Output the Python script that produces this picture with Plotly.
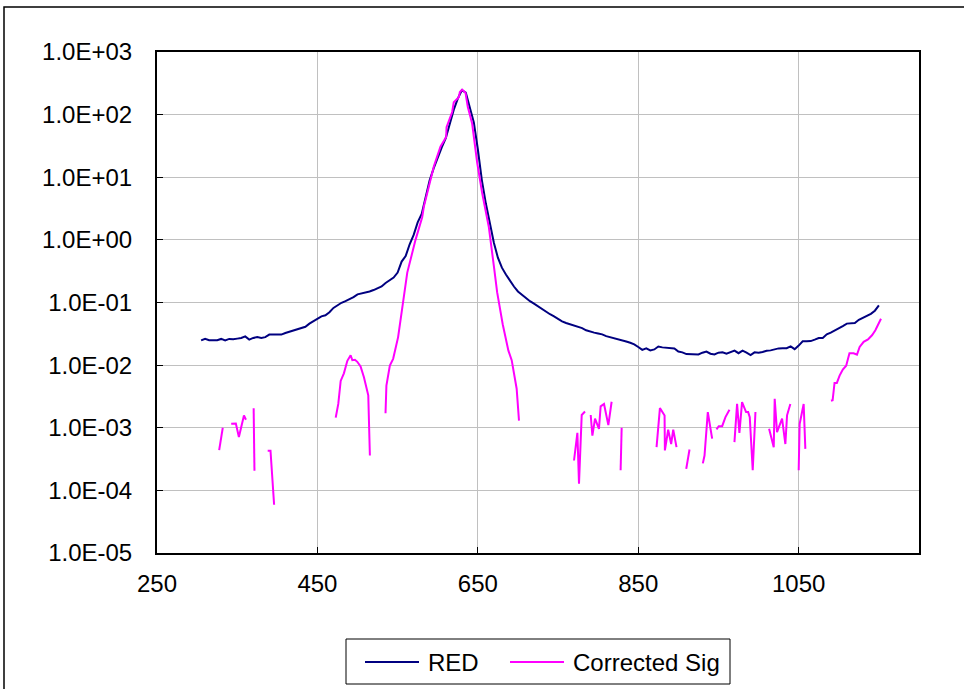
import plotly.graph_objects as go

# ---------------- data ----------------
red_x = list(range(305, 1151, 5))
red_y = [
    0.0248, 0.0264, 0.0250, 0.0248, 0.0250, 0.0262, 0.0248, 0.0262, 0.0258, 0.0265,  # 305-350
    0.0272, 0.0288, 0.0256, 0.0272, 0.0280, 0.0272, 0.0280, 0.0307, 0.0305, 0.0308,  # 355-400
    0.0307, 0.0326, 0.0340, 0.0352, 0.0370, 0.0385, 0.0410, 0.0460, 0.0500, 0.0550,  # 405-450
    0.0600, 0.0625, 0.0700, 0.0820, 0.0900, 0.0990, 0.1050, 0.1120, 0.1220, 0.1350,  # 455-500
    0.1400, 0.1420, 0.1500, 0.1580, 0.1680, 0.1800, 0.2050, 0.2300, 0.2500, 0.3000,  # 505-550
    0.4500, 0.5500, 0.8500, 1.2000, 1.9000, 2.6000, 5.0000, 9.0000, 14.000, 21.000,  # 555-600
    30.000, 42.000, 75.000, 120.00, 180.00, 245.00, 225.00, 130.00, 75.000, 28.000,  # 605-650
    9.0000, 3.8000, 1.8000, 0.9000, 0.5200, 0.3600, 0.2800, 0.2200, 0.1800, 0.1500,  # 655-700
    0.1320, 0.1180, 0.1050, 0.0960, 0.0870, 0.0780, 0.0700, 0.0650, 0.0600, 0.0540,  # 705-750
    0.0500, 0.0470, 0.0450, 0.0430, 0.0410, 0.0390, 0.0360, 0.0340, 0.0330, 0.0320,  # 755-800
    0.0310, 0.0290, 0.0280, 0.0270, 0.0260, 0.0250, 0.0238, 0.0228, 0.0215, 0.0195,  # 805-850
    0.0175, 0.0185, 0.0172, 0.0178, 0.0198, 0.0192, 0.0190, 0.0190, 0.0185, 0.0165,  # 855-900
    0.0160, 0.0150, 0.0148, 0.0150, 0.0148, 0.0158, 0.0165, 0.0152, 0.0148, 0.0158,  # 905-950
    0.0160, 0.0152, 0.0162, 0.0170, 0.0155, 0.0170, 0.0158, 0.0145, 0.0160, 0.0158,  # 955-1000
    0.0162, 0.0170, 0.0172, 0.0180, 0.0185, 0.0186, 0.0186, 0.0199, 0.0180, 0.0205,  # 1005-1050
    0.0240, 0.0240, 0.0242, 0.0255, 0.0270, 0.0272, 0.0310, 0.0330, 0.0355, 0.0385,  # 1055-1100
    0.0420, 0.0460, 0.0470, 0.0470, 0.0530, 0.0570, 0.0610, 0.0660, 0.0740, 0.0900,  # 1105-1150
]

# Corrected signal: None marks the gaps (no positive value there)
sig_x = [
    327.5, 332, None,
    342.5, 348.3, 352.1, 358.4, 360.9, None,
    370.5, 371.5, None,
    388, 391.5, 396, None,
    472.8, 476, 479, 483, 487.3, 491.4, 493.5, 496.8, 499.7, 503.8, 508, 513.4, 515.4, None,
    534.9, 536, 540.3, 544.4, 550.6, 553.6, 557, 562, 572.3, 580.6, 582.7, 588.9, 595.2,
    603.5, 610.5, 611, 618, 620, 626.3, 627.6, 630.5, 634.6, 637.5, 642.9, 649.2, 655.4,
    663.7, 670, 674.1, 681, 688.1, 692.2, 698.4, 701.3, None,
    769.9, 774.1, 776.1, 779.5, 783.6, None,
    790.7, 792.8, 796.1, 801, 803.1, 807.3, 812.7, 816.8, None,
    828, 829.3, None,
    872.8, 877, 882.8, 883.2, 887.3, 891, 893.6, 897.7, None,
    909.8, 913.9, None,
    930.5, 932.6, 936.7, 942.1, None,
    947.5, 950.4, 954.6, 958.7, 963.7, None,
    969.9, 973.2, 976.1, 979.4, 984.4, 987, 989, 992.7, 996.1, None,
    1013.1, 1018.9, 1020.1, 1023, 1029.3, 1033.4, 1035.5, 1039.6, None,
    1050, 1051.2, 1056.2, 1058.3, None,
    1090.3, 1092.3, 1094.7, 1097.6, 1101, 1105, 1109.2, 1113.3, 1118.5, 1122.7, 1126,
    1131, 1136.4, 1141.4, 1145.6, 1149.7, 1152.6,
]
sig_y = [
    4.4e-4, 1.0e-3, None,
    1.16e-3, 1.17e-3, 7.1e-4, 1.57e-3, 1.34e-3, None,
    2.05e-3, 2.05e-4, None,
    4.3e-4, 4.3e-4, 5.9e-5, None,
    1.45e-3, 2.4e-3, 5.6e-3, 7.4e-3, 1.17e-2, 1.44e-2, 1.2e-2, 1.22e-2, 1.13e-2, 9.5e-3, 6.4e-3, 3.3e-3, 3.6e-4, None,
    1.7e-3, 4.7e-3, 9.8e-3, 1.26e-2, 0.028, 0.055, 0.11, 0.3, 1.0, 2.3, 3.4, 7.1, 15,
    31, 44, 63, 110, 158, 190, 230, 250, 224, 132, 72, 17, 5.6,
    1.6, 0.38, 0.145, 0.045, 0.017, 0.012, 4.2e-3, 1.3e-3, None,
    3.0e-4, 8.3e-4, 1.28e-4, 1.6e-3, 1.82e-3, None,
    1.6e-3, 7.5e-4, 1.4e-3, 9.6e-4, 2.2e-3, 2.4e-3, 1.1e-3, 2.6e-3, None,
    2.1e-4, 1.0e-3, None,
    4.9e-4, 2.06e-3, 1.57e-3, 4.35e-4, 9.3e-4, 5.5e-4, 9.3e-4, 4.9e-4, None,
    2.2e-4, 4.5e-4, None,
    2.7e-4, 3.6e-4, 1.78e-3, 6.7e-4, None,
    9.4e-4, 1.06e-3, 1.06e-3, 1.48e-3, 1.94e-3, None,
    5.9e-4, 2.4e-3, 8.3e-4, 2.57e-3, 1.78e-3, 1.78e-3, 1.48e-3, 2.1e-4, 1.78e-3, None,
    9.6e-4, 4.9e-4, 2.9e-3, 8.5e-4, 1.4e-3, 5.5e-4, 1.58e-3, 2.4e-3, None,
    2.1e-4, 1.15e-3, 2.4e-3, 4.6e-4, None,
    2.7e-3, 2.75e-3, 5.2e-3, 5.2e-3, 6.8e-3, 8.5e-3, 9.8e-3, 0.0155, 0.0155, 0.0147, 0.0195,
    0.0235, 0.0257, 0.030, 0.036, 0.047, 0.055,
]

series_names = ["RED", "Corrected Sig"]
series_colors = ["#000080", "#FF00FF"]

x_ticks = [250, 450, 650, 850, 1050]
y_ticks = [1e-5, 1e-4, 1e-3, 1e-2, 1e-1, 1e0, 1e1, 1e2, 1e3]
y_labels = ["1.0E-05", "1.0E-04", "1.0E-03", "1.0E-02", "1.0E-01",
            "1.0E+00", "1.0E+01", "1.0E+02", "1.0E+03"]

# ---------------- figure ----------------
FONT = "Liberation Sans, Arial, sans-serif"
fig = go.Figure()
fig.add_trace(go.Scatter(x=red_x, y=red_y, mode="lines", name=series_names[0],
                         line=dict(color=series_colors[0], width=2), showlegend=False))
fig.add_trace(go.Scatter(x=sig_x, y=sig_y, mode="lines", name=series_names[1],
                         line=dict(color=series_colors[1], width=2), connectgaps=False,
                         showlegend=False))

fig.update_layout(
    width=964, height=689,
    margin=dict(l=157, r=45, t=52, b=136, autoexpand=False),
    paper_bgcolor="white", plot_bgcolor="white",
    font=dict(family=FONT, size=24, color="black"),
    showlegend=False,
    xaxis=dict(range=[250, 1200], tickvals=x_ticks, ticktext=[str(v) for v in x_ticks],
               showgrid=True, gridcolor="#c0c0c0", gridwidth=1,
               ticks="inside", ticklen=6, tickcolor="black",
               showline=True, linecolor="black", linewidth=2, mirror=True,
               zeroline=False, ticklabelstandoff=8),
    yaxis=dict(type="log", range=[-5, 3], tickvals=y_ticks, ticktext=y_labels,
               showgrid=True, gridcolor="#c0c0c0", gridwidth=1,
               ticks="inside", ticklen=6, tickcolor="black",
               showline=True, linecolor="black", linewidth=2, mirror=True,
               zeroline=False, ticklabelstandoff=18),
)

# pixel -> paper helpers for the frame and legend box
PL, PW, PB, PH = 157, 762, 553, 501
def px(v):
    return (v - PL) / PW
def py(v):
    return (PB - v) / PH

# outer chart-area frame (right and bottom edges lie outside the visible page)
fig.add_shape(type="rect", xref="paper", yref="paper",
              x0=px(4), x1=px(1100), y0=py(800), y1=py(7),
              line=dict(color="black", width=1.5), layer="below")

# legend box
fig.add_shape(type="rect", xref="paper", yref="paper",
              x0=px(346), x1=px(730), y0=py(684), y1=py(639),
              line=dict(color="black", width=1), fillcolor="white")
legend_line_x = [365, 510]
for name, color, lx in zip(series_names, series_colors, legend_line_x):
    fig.add_shape(type="line", xref="paper", yref="paper",
                  x0=px(lx), x1=px(lx + 54), y0=py(662), y1=py(662),
                  line=dict(color=color, width=2))
    fig.add_annotation(xref="paper", yref="paper", x=px(lx + 61), y=py(662),
                       xanchor="left", yanchor="middle", showarrow=False,
                       text=name, font=dict(family=FONT, size=24, color="black"))

fig.write_html("out.html")
